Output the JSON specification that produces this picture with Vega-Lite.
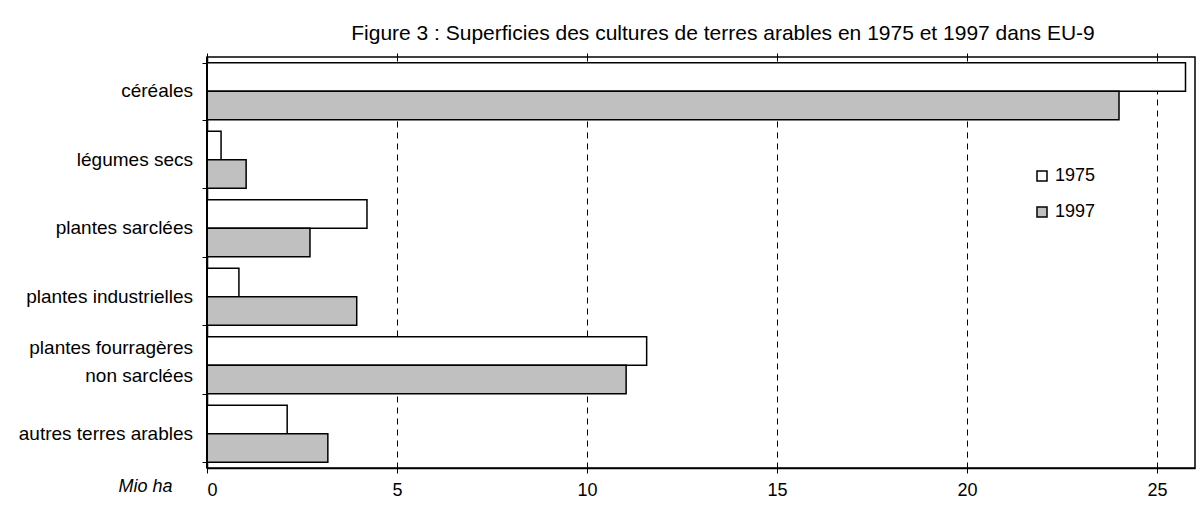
{
  "$schema": "https://vega.github.io/schema/vega-lite/v6.json",
  "width": 988,
  "height": 411,
  "autosize": {"type": "none"},
  "padding": {"left": 207, "top": 57, "right": 7, "bottom": 41},
  "background": "white",
  "title": {
    "text": "Figure 3 : Superficies des cultures de terres arables en 1975 et 1997 dans EU-9",
    "anchor": "middle",
    "frame": "group",
    "dx": 22,
    "dy": 30,
    "offset": 22,
    "baseline": "alphabetic",
    "font": "Liberation Sans",
    "fontSize": 21,
    "fontWeight": "normal",
    "color": "black"
  },
  "config": {
    "view": {"stroke": "black", "strokeWidth": 1.5},
    "font": "Liberation Sans"
  },
  "data": {
    "values": [
      {"culture": "céréales", "annee": "1975", "valeur": 25.75},
      {"culture": "céréales", "annee": "1997", "valeur": 24.0},
      {"culture": "légumes secs", "annee": "1975", "valeur": 0.37},
      {"culture": "légumes secs", "annee": "1997", "valeur": 1.03},
      {"culture": "plantes sarclées", "annee": "1975", "valeur": 4.21},
      {"culture": "plantes sarclées", "annee": "1997", "valeur": 2.71},
      {"culture": "plantes industrielles", "annee": "1975", "valeur": 0.84},
      {"culture": "plantes industrielles", "annee": "1997", "valeur": 3.94},
      {"culture": "plantes fourragères\nnon sarclées", "annee": "1975", "valeur": 11.57},
      {"culture": "plantes fourragères\nnon sarclées", "annee": "1997", "valeur": 11.03},
      {"culture": "autres terres arables", "annee": "1975", "valeur": 2.11},
      {"culture": "autres terres arables", "annee": "1997", "valeur": 3.18}
    ]
  },
  "resolve": {"axis": {"x": "independent"}},
  "layer": [
    {
      "mark": {"type": "bar", "stroke": "black", "strokeWidth": 1.5},
      "encoding": {
        "y": {
          "field": "culture",
          "type": "nominal",
          "sort": null,
          "scale": {"paddingInner": 0.17, "paddingOuter": 0.085},
          "axis": {
            "title": null,
            "labels": false,
            "tickBand": "extent",
            "tickColor": "black",
            "tickSize": 5,
            "tickWidth": 1,
            "domainColor": "black",
            "domainWidth": 1.5
          }
        },
        "yOffset": {
          "field": "annee",
          "type": "nominal",
          "sort": ["1975", "1997"],
          "scale": {"paddingInner": 0, "paddingOuter": 0}
        },
        "x": {
          "field": "valeur",
          "type": "quantitative",
          "scale": {"domain": [0, 26], "nice": false, "zero": true},
          "axis": {
            "orient": "bottom",
            "values": [0, 5, 10, 15, 20, 25],
            "grid": true,
            "gridColor": "black",
            "gridDash": [6, 5],
            "gridWidth": 1,
            "domainColor": "black",
            "domainWidth": 1.5,
            "tickColor": "black",
            "tickSize": 5,
            "labelFont": "Liberation Sans",
            "labelFontSize": 18,
            "labelColor": "black",
            "labelPadding": 8,
            "title": "Mio ha",
            "titleFont": "Liberation Sans",
            "titleFontSize": 18,
            "titleFontStyle": "italic",
            "titleFontWeight": "normal",
            "titleColor": "black",
            "titleAlign": "center",
            "titleBaseline": "middle",
            "titleX": -62,
            "titleY": 18
          }
        },
        "fill": {
          "field": "annee",
          "type": "nominal",
          "scale": {"domain": ["1975", "1997"], "range": ["white", "#c0c0c0"]},
          "legend": {
            "title": null,
            "orient": "none",
            "legendX": 826,
            "legendY": 110,
            "symbolType": "square",
            "symbolSize": 100,
            "symbolStrokeColor": "black",
            "symbolStrokeWidth": 1.5,
            "labelFont": "Liberation Sans",
            "labelFontSize": 18,
            "labelColor": "black",
            "labelOffset": 4,
            "rowPadding": 18
          }
        }
      }
    },
    {
      "transform": [
        {"filter": "datum.annee == '1975' && indexof(datum.culture, 'fourrag') < 0"}
      ],
      "mark": {
        "type": "text",
        "align": "right",
        "baseline": "middle",
        "dx": -14,
        "font": "Liberation Sans",
        "fontSize": 19,
        "color": "black"
      },
      "encoding": {
        "y": {"field": "culture", "type": "nominal", "sort": null},
        "x": {"datum": 0, "type": "quantitative", "axis": null},
        "text": {"field": "culture", "type": "nominal"}
      }
    },
    {
      "transform": [
        {"filter": "datum.annee == '1975' && indexof(datum.culture, 'fourrag') >= 0"}
      ],
      "mark": {
        "type": "text",
        "align": "right",
        "baseline": "middle",
        "dx": -14,
        "dy": -17,
        "lineBreak": "\n",
        "lineHeight": 28,
        "font": "Liberation Sans",
        "fontSize": 19,
        "color": "black"
      },
      "encoding": {
        "y": {"field": "culture", "type": "nominal", "sort": null},
        "x": {"datum": 0, "type": "quantitative", "axis": null},
        "text": {"field": "culture", "type": "nominal"}
      }
    },
    {
      "mark": {"type": "rule", "stroke": "black", "strokeWidth": 1.5},
      "encoding": {
        "x": {
          "datum": 0,
          "type": "quantitative",
          "axis": {
            "orient": "top",
            "values": [0, 5, 10, 15, 20, 25],
            "labels": false,
            "grid": false,
            "domain": false,
            "tickColor": "black",
            "tickSize": 4,
            "title": null
          }
        }
      }
    }
  ]
}
